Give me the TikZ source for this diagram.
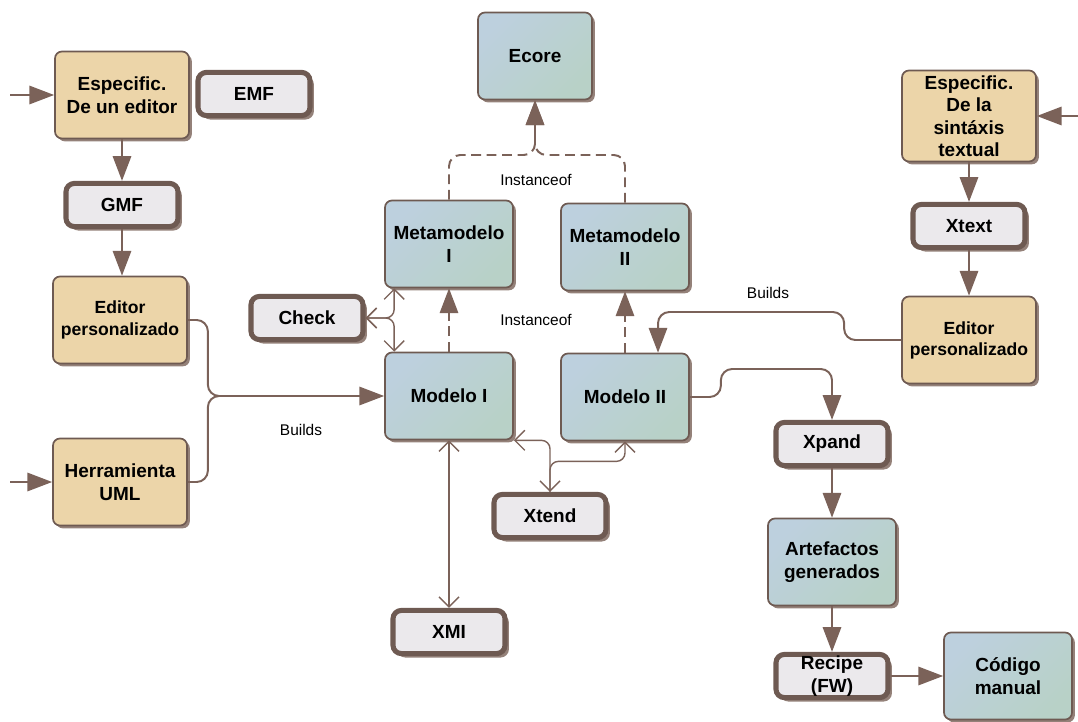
\documentclass[tikz,border=0pt]{standalone}
\usepackage{fontspec}
\setmainfont{Liberation Sans}
\usepackage{tikz}
\usetikzlibrary{arrows.meta,shadows}
\usepackage{xcolor}

\definecolor{wire}{HTML}{7B6259}
\definecolor{rim}{HTML}{6E5A52}
\definecolor{shadowc}{HTML}{948179}
\definecolor{sand}{HTML}{ECD5A9}
\definecolor{paper}{HTML}{EBE9EC}
\definecolor{ice}{HTML}{BDD0DE}
\definecolor{sage}{HTML}{B8D1C7}

\begin{document}
\begin{tikzpicture}[x=0.025cm, y=-0.025cm,
      box/.style={draw=rim, line width=1.2pt, rounded corners=5pt, align=center,
                  minimum width=3.2cm, minimum height=2.175cm, inner sep=1pt,
                  font=\fontsize{13.5}{16}\selectfont\bfseries,
                  drop shadow={shadow xshift=2pt, shadow yshift=-2pt, fill=shadowc, opacity=1}},
      spec/.style={box, fill=sand, minimum width=3.35cm},
      editor/.style={spec, font=\fontsize{12.5}{15}\selectfont\bfseries},
      model/.style={box, top color=ice, bottom color=sage, shading angle=45},
      tool/.style={draw=rim, line width=3.6pt, fill=paper, rounded corners=6pt, align=center,
                   minimum width=2.8cm, minimum height=1.08cm, inner sep=0pt,
                   font=\fontsize{13.5}{16}\selectfont\bfseries,
                   drop shadow={shadow xshift=2.8pt, shadow yshift=-2.8pt, fill=shadowc, opacity=1}},
      note/.style={font=\fontsize{11}{13}\selectfont},
      flow/.style={draw=wire, line width=1.4pt, -{Triangle[length=6.2mm, width=4.6mm]}},
      inst/.style={flow, dash pattern=on 7pt off 4pt},
      link/.style={draw=wire, line width=1pt},
      assoc/.style={link, {Straight Barb[length=2.5mm, width=5mm]}-{Straight Barb[length=2.5mm, width=5mm]}},
      assocfrom/.style={link, {Straight Barb[length=2.5mm, width=5mm]}-}]
    \useasboundingbox (0,0) rectangle (1078,722);

    % left column
    \node[spec] (espEd) at (122,95) {Especific.\\De un editor};
    \node[tool] (emf) at (254,94) {EMF};
    \node[tool] (gmf) at (122,205) {GMF};
    \node[editor] (edL) at (120,320) {Editor\\personalizado};
    \node[spec] (herr) at (120,482) {Herramienta\\UML};

    % models
    \node[model, minimum width=2.85cm] (ecore) at (535,56) {Ecore};
    \node[model] (mm1) at (449,244) {Metamodelo\\I};
    \node[model] (mm2) at (625,247) {Metamodelo\\II};
    \node[tool] (check) at (307,318) {Check};
    \node[model] (m1) at (449,396) {Modelo I};
    \node[model] (m2) at (625,397) {Modelo II};
    \node[tool] (xtend) at (550,516) {Xtend};
    \node[tool] (xmi) at (449,632) {XMI};

    % generation
    \node[tool] (xpand) at (832,444) {Xpand};
    \node[model] (arte) at (832,562) {Artefactos\\generados};
    \node[tool] (recipe) at (832,676) {Recipe\\(FW)};
    \node[model] (codigo) at (1008,676) {Código\\manual};

    % right column
    \node[spec, minimum height=2.275cm, inner sep=0pt] (espTx) at (969,116) {Especific.\\De la\\sintáxis\\textual};
    \node[tool] (xtext) at (969,226) {Xtext};
    \node[editor] (edR) at (969,340) {Editor\\personalizado};

    \node[note] (inst1) at (536,180) {Instanceof};
    \node[note] (inst2) at (536,320) {Instanceof};
    \node[note] (bld1) at (301,430) {Builds};
    \node[note] (bld2) at (768,293) {Builds};

    \coordinate (inEd) at (10,95);
    \coordinate (inHe) at (10,482);
    \coordinate (inTx) at (1078,116);
    \coordinate (jn) at (535,155);

    \draw[flow] (inEd) -- (espEd);
    \draw[flow] (espEd) -- (gmf);
    \draw[flow] (gmf.south) -- (gmf.south |- edL.north);
    \draw[flow] (inHe) -- (herr);
    \draw[link, line width=1.4pt, rounded corners=8pt] (herr.east) -- ++(20,0) |- ([xshift=-1cm]m1.west);
    \draw[flow, rounded corners=8pt] (edL.east) -- ++(20,0) |- (m1.west);

    \draw[inst] (m1) -- (mm1);
    \draw[inst] (m2) -- (mm2);
    \draw[inst, rounded corners=8pt] (mm1.north) |- (jn) -- (ecore.south);
    \draw[inst, rounded corners=8pt] (mm2.north) |- (jn) -- (ecore.south);

    \draw[assoc, rounded corners=6pt] (check.east) -| ([xshift=0.25cm]mm1.south west);
    \draw[assoc, rounded corners=6pt] (check.east) -| ([xshift=0.25cm]m1.north west);
    \draw[assoc] (m1) -- (xmi);
    \draw[assoc, rounded corners=6pt] (m1.south east) -| (xtend.north);
    \draw[assocfrom, rounded corners=6pt] (m2.south) -- ++(0,20) -| (xtend.north);

    \draw[flow, rounded corners=8pt] (m2.east) -- ++(31,0) -- ++(0,-28) -| (xpand.north);
    \draw[flow, rounded corners=8pt] (edR.west) -- ++(-57,0) -- ++(0,-28) -| ([xshift=0.825cm]m2.north);
    \draw[flow] (xpand) -- (arte);
    \draw[flow] (arte) -- (recipe);
    \draw[flow] (recipe) -- (codigo);

    \draw[flow] (inTx) -- (espTx);
    \draw[flow] (espTx) -- (xtext);
    \draw[flow] (xtext) -- (edR);
  \end{tikzpicture}
\end{document}
